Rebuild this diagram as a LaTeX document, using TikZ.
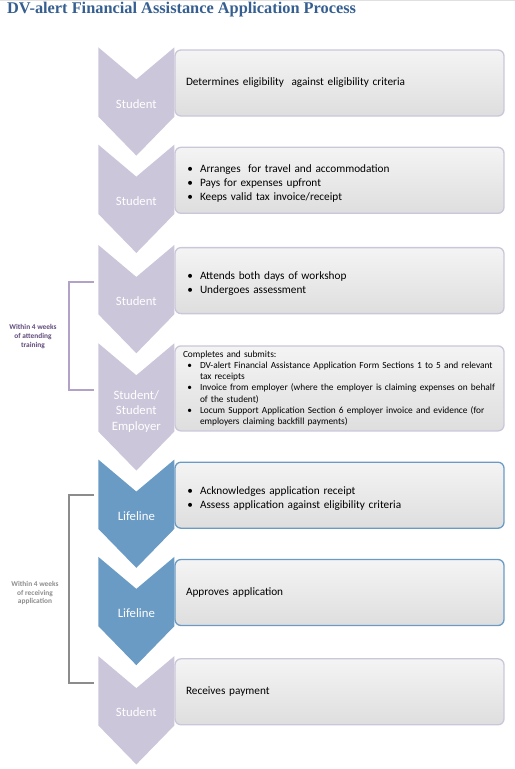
\documentclass[tikz,border=0pt]{standalone}
\usepackage{fontspec}
\setmainfont{Carlito}
\newfontfamily\titlefont{Liberation Serif}
\usepackage{enumitem}
\usetikzlibrary{positioning}

\definecolor{titleblue}{HTML}{365F91}
\definecolor{lavender}{HTML}{CCC6DA}
\definecolor{lifeblue}{HTML}{6A9BC4}
\definecolor{boxtop}{HTML}{F4F4F4}
\definecolor{boxbottom}{HTML}{DEDEDE}
\definecolor{weekpurple}{HTML}{604A7B}
\definecolor{bracketpurple}{HTML}{B3A2C7}
\definecolor{bracketgray}{HTML}{8C8C8C}

\setlist[itemize]{label=\textbullet, leftmargin=14bp, labelsep=7bp, topsep=0pt, itemsep=0pt, parsep=0pt, partopsep=0pt}

\begin{document}
\begin{tikzpicture}[x=1bp, y=1bp,
      block/.style={rectangle, draw=lavender, line width=1.3bp, top color=boxtop, bottom color=boxbottom, rounded corners=6bp, minimum width=329bp, minimum height=66bp, text width=307bp, inner xsep=11bp, align=left, font=\fontsize{11.3}{14}\selectfont},
      lifeblock/.style={block, draw=lifeblue},
      chevron/.style={fill=lavender},
      lifechevron/.style={fill=lifeblue},
      actor/.style={text=white, font=\fontsize{12.8}{15.5}\selectfont, align=center},
      bracket/.style={draw=bracketpurple, line width=1.2bp},
      weeks/.style={font=\bfseries\fontsize{7.4}{9}\selectfont, align=center, text=weekpurple}
    ]
    \useasboundingbox (0,0) rectangle (515,-769);
    \draw[black!12, line width=1bp] (0,-0.5) -- (515,-0.5);

    \node[anchor=west, inner sep=0pt, text=titleblue, font=\titlefont\bfseries\fontsize{16.4}{19}\selectfont] (title) at (7,-10) {DV-alert Financial Assistance Application Process};

    % process steps
    \node [block] (eligible) at (339.5,-83) {Determines eligibility\ \ against eligibility criteria};
    \node [block, below=30bp of eligible] (travel) {\begin{itemize}
        \item Arranges\ \ for travel and accommodation
        \item Pays for expenses upfront
        \item Keeps valid tax invoice/receipt
      \end{itemize}};
    \node [block, below=33bp of travel] (workshop) {\begin{itemize}
        \item Attends both days of workshop
        \item Undergoes assessment
      \end{itemize}};
    \node [block, below=31bp of workshop, minimum height=85bp, inner xsep=8bp, text width=313bp, font=\fontsize{9.4}{11.2}\selectfont] (submit) {Completes and submits:
      \begin{itemize}[leftmargin=17bp, labelsep=8bp]
        \item DV-alert Financial Assistance Application Form Sections 1 to 5 and relevant\\tax receipts
        \item Invoice from employer (where the employer is claiming expenses on behalf\\of the student)
        \item Locum Support Application Section 6 employer invoice and evidence (for\\employers claiming backfill payments)
      \end{itemize}};
    \node [lifeblock, below=30bp of submit] (acknowledge) {\begin{itemize}
        \item Acknowledges application receipt
        \item Assess application against eligibility criteria
      \end{itemize}};
    \node [lifeblock, below=30bp of acknowledge] (approve) {Approves application};
    \node [block, below=32bp of approve] (payment) {Receives payment};

    % chevrons
    \fill[chevron] (eligible.south west) -- ++(-38,-39) -- ++(-38,39) -- ([xshift=-76bp,yshift=2bp]eligible.north west) -- ++(38,-32) -- ([yshift=2bp]eligible.north west) -- cycle;
    \fill[chevron] (travel.south west) -- ++(-38,-39) -- ++(-38,39) -- ([xshift=-76bp,yshift=2bp]travel.north west) -- ++(38,-32) -- ([yshift=2bp]travel.north west) -- cycle;
    \fill[chevron] (workshop.south west) -- ++(-38,-39) -- ++(-38,39) -- ([xshift=-76bp,yshift=2bp]workshop.north west) -- ++(38,-32) -- ([yshift=2bp]workshop.north west) -- cycle;
    \fill[chevron] (submit.south west) -- ++(-38,-39) -- ++(-38,39) -- ([xshift=-76bp,yshift=2bp]submit.north west) -- ++(38,-32) -- ([yshift=2bp]submit.north west) -- cycle;
    \fill[lifechevron] (acknowledge.south west) -- ++(-38,-39) -- ++(-38,39) -- ([xshift=-76bp,yshift=2bp]acknowledge.north west) -- ++(38,-32) -- ([yshift=2bp]acknowledge.north west) -- cycle;
    \fill[lifechevron] (approve.south west) -- ++(-38,-39) -- ++(-38,39) -- ([xshift=-76bp,yshift=2bp]approve.north west) -- ++(38,-32) -- ([yshift=2bp]approve.north west) -- cycle;
    \fill[chevron] (payment.south west) -- ++(-38,-39) -- ++(-38,39) -- ([xshift=-76bp,yshift=2bp]payment.north west) -- ++(38,-32) -- ([yshift=2bp]payment.north west) -- cycle;

    \node [actor] (who1) at ([xshift=-38bp,yshift=13bp]eligible.south west) {Student};
    \node [actor] (who2) at ([xshift=-38bp,yshift=13bp]travel.south west) {Student};
    \node [actor] (who3) at ([xshift=-38bp,yshift=13bp]workshop.south west) {Student};
    \node [actor] (who4) at ([xshift=-38bp,yshift=20bp]submit.south west) {Student/\\Student\\Employer};
    \node [actor] (who5) at ([xshift=-38bp,yshift=13bp]acknowledge.south west) {Lifeline};
    \node [actor] (who6) at ([xshift=-38bp,yshift=13bp]approve.south west) {Lifeline};
    \node [actor] (who7) at ([xshift=-38bp,yshift=13bp]payment.south west) {Student};

    % time frames
    \coordinate (train top) at (94,-282);
    \coordinate (train bottom) at (94,-390);
    \draw [bracket] (train top) -- ++(-25,0) |- (train bottom);
    \node [weeks] (within training) at (33,-337) {Within 4 weeks\\of attending\\training};

    \coordinate (receive top) at (94,-495);
    \coordinate (receive bottom) at (94,-683);
    \draw [bracket, draw=bracketgray] (receive top) -- ++(-25,0) |- (receive bottom);
    \node [weeks, text=bracketgray] (within receiving) at (35,-593) {Within 4 weeks\\of receiving\\application};

    \end{tikzpicture}
\end{document}
